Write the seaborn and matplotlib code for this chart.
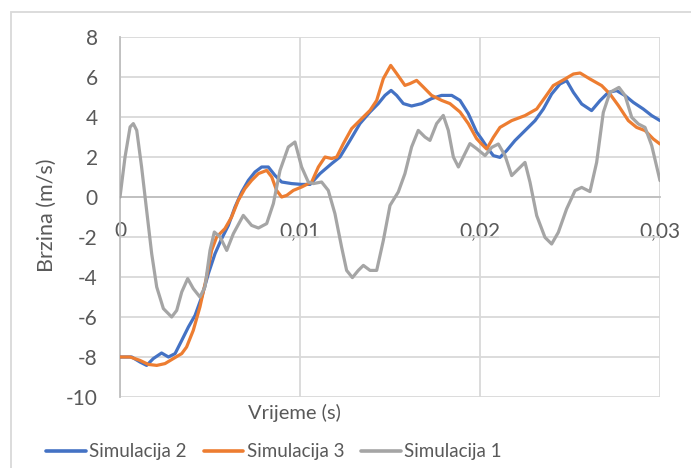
import matplotlib
matplotlib.use("Agg")
import matplotlib.pyplot as plt
import seaborn as sns
import pandas as pd

# Simulacija 2: time (s) and speed (m/s)
t_sim2 = [0.0, 0.00065, 0.00111, 0.00148, 0.00185, 0.00231, 0.00269, 0.00306,
          0.00343, 0.0038, 0.00417, 0.00454, 0.00491, 0.00528, 0.00565, 0.00602,
          0.00639, 0.00676, 0.00713, 0.0075, 0.00787, 0.00824, 0.00861, 0.00898,
          0.00954, 0.01009, 0.01056, 0.01111, 0.01176, 0.01222, 0.01278, 0.01333,
          0.01389, 0.01435, 0.01472, 0.01506, 0.01537, 0.01574, 0.0162, 0.01676,
          0.01731, 0.01787, 0.01843, 0.01889, 0.01935, 0.01981, 0.02009, 0.02046,
          0.02074, 0.02111, 0.02148, 0.02194, 0.0225, 0.02306, 0.02352, 0.02398,
          0.02444, 0.02481, 0.02519, 0.02565, 0.0262, 0.02667, 0.02713, 0.02759,
          0.02806, 0.02852, 0.02907, 0.02954, 0.03]
v_sim2 = [-8.0, -8.0, -8.25, -8.42, -8.08, -7.8, -8.0, -7.83,
          -7.17, -6.5, -5.92, -5.0, -3.83, -2.83, -2.08, -1.42,
          -0.5, 0.25, 0.83, 1.25, 1.5, 1.5, 1.08, 0.75,
          0.67, 0.63, 0.63, 1.17, 1.67, 2.0, 2.83, 3.67,
          4.25, 4.67, 5.08, 5.33, 5.08, 4.67, 4.55, 4.67,
          4.92, 5.08, 5.08, 4.83, 4.17, 3.25, 2.9, 2.4,
          2.07, 1.98, 2.32, 2.82, 3.32, 3.82, 4.4, 5.15,
          5.65, 5.82, 5.23, 4.65, 4.32, 4.82, 5.23, 5.32,
          5.07, 4.73, 4.4, 4.07, 3.82]

# Simulacija 3
t_sim3 = [0.0, 0.00056, 0.00111, 0.00157, 0.00204, 0.0025, 0.00296, 0.00343,
          0.0037, 0.00407, 0.00444, 0.00481, 0.00509, 0.00537, 0.00583, 0.0062,
          0.00657, 0.00694, 0.00731, 0.00769, 0.00815, 0.00843, 0.0087, 0.00898,
          0.00926, 0.00963, 0.01009, 0.01065, 0.01102, 0.01139, 0.01176, 0.01204,
          0.01241, 0.01287, 0.01343, 0.01389, 0.01426, 0.01463, 0.01504, 0.01537,
          0.01583, 0.01611, 0.01648, 0.01685, 0.01731, 0.01787, 0.01833, 0.01889,
          0.01935, 0.01981, 0.02009, 0.02037, 0.02074, 0.02111, 0.02176, 0.0225,
          0.02315, 0.02361, 0.02407, 0.02472, 0.02519, 0.02556, 0.02611, 0.02676,
          0.02722, 0.02769, 0.02824, 0.0287, 0.02917, 0.02963, 0.03]
v_sim3 = [-8.0, -8.0, -8.17, -8.37, -8.42, -8.33, -8.08, -7.83,
          -7.5, -6.67, -5.5, -4.0, -2.67, -2.0, -1.58, -1.0,
          -0.17, 0.42, 0.83, 1.17, 1.33, 1.0, 0.33, 0.0,
          0.08, 0.33, 0.5, 0.75, 1.5, 2.0, 1.92, 2.0,
          2.67, 3.42, 3.92, 4.33, 4.83, 5.92, 6.58, 6.17,
          5.58, 5.67, 5.83, 5.5, 5.08, 4.83, 4.67, 4.25,
          3.67, 2.92, 2.65, 2.4, 2.98, 3.48, 3.82, 4.07,
          4.4, 4.98, 5.57, 5.9, 6.15, 6.2, 5.9, 5.57,
          5.15, 4.57, 3.82, 3.48, 3.32, 2.9, 2.65]

# Simulacija 1
t_sim1 = [0.0, 0.00028, 0.00056, 0.00074, 0.00093, 0.0012, 0.00148, 0.00176,
          0.00204, 0.00241, 0.00287, 0.00315, 0.00343, 0.00376, 0.00407, 0.00444,
          0.00472, 0.005, 0.00524, 0.00556, 0.00593, 0.0063, 0.00685, 0.00731,
          0.00769, 0.00815, 0.00852, 0.00889, 0.00935, 0.00972, 0.01009, 0.01046,
          0.01074, 0.0112, 0.01157, 0.01194, 0.01231, 0.01259, 0.01291, 0.01324,
          0.01352, 0.01389, 0.01426, 0.01463, 0.015, 0.01546, 0.01583, 0.0162,
          0.01657, 0.01694, 0.01722, 0.01759, 0.01796, 0.01824, 0.01852, 0.0188,
          0.01907, 0.01944, 0.01981, 0.02028, 0.02065, 0.02102, 0.02139, 0.02176,
          0.02213, 0.0225, 0.02278, 0.02315, 0.02361, 0.02398, 0.02435, 0.02481,
          0.02528, 0.02565, 0.02611, 0.02648, 0.02685, 0.02722, 0.02772, 0.02806,
          0.02843, 0.0288, 0.02917, 0.02954, 0.03]
v_sim1 = [0.0, 2.0, 3.5, 3.67, 3.33, 1.5, -0.67, -2.83,
          -4.5, -5.58, -6.0, -5.67, -4.75, -4.08, -4.58, -5.0,
          -4.5, -2.67, -1.75, -2.0, -2.67, -1.83, -0.92, -1.42,
          -1.55, -1.33, -0.33, 1.33, 2.5, 2.75, 1.5, 0.75,
          0.67, 0.75, 0.33, -0.83, -2.5, -3.67, -4.03, -3.67,
          -3.42, -3.67, -3.67, -2.17, -0.42, 0.25, 1.17, 2.5,
          3.33, 3.0, 2.83, 3.67, 4.08, 3.33, 2.0, 1.5,
          2.0, 2.67, 2.42, 2.07, 2.48, 2.65, 2.07, 1.07,
          1.4, 1.73, 0.73, -0.93, -2.02, -2.35, -1.77, -0.6,
          0.32, 0.48, 0.27, 1.73, 4.23, 5.23, 5.48, 5.07,
          3.98, 3.65, 3.48, 2.57, 0.82]

series_names = ["Simulacija 2", "Simulacija 3", "Simulacija 1"]
series_colors = ["#4472C4", "#ED7D31", "#A5A5A5"]

x_ticks = [0.0, 0.01, 0.02, 0.03]
x_tick_labels = ["0", "0,01", "0,02", "0,03"]
y_ticks = list(range(-10, 9, 2))

frames = []
for name, t, v in zip(series_names,
                      [t_sim2, t_sim3, t_sim1],
                      [v_sim2, v_sim3, v_sim1]):
    frames.append(pd.DataFrame({"t": t, "v": v, "serija": name}))
df = pd.concat(frames, ignore_index=True)

sns.set_style("white")
plt.rcParams["font.family"] = ["Lato", "DejaVu Sans"]

fig = plt.figure(figsize=(6.91, 4.68), dpi=100)
ax = fig.add_axes([120 / 691, 1 - 397 / 468, 540 / 691, 360 / 468])

sns.lineplot(data=df, x="t", y="v", hue="serija", hue_order=series_names,
             palette=series_colors, sort=False, linewidth=2.3, ax=ax,
             legend=True, zorder=3)
for line in ax.get_lines():
    line.set_solid_joinstyle("round")
    line.set_solid_capstyle("round")

ax.set_xlim(0, 0.03)
ax.set_ylim(-10, 8)
ax.set_xticks(x_ticks)
ax.set_xticklabels(x_tick_labels)
ax.set_yticks(y_ticks)
ax.set_yticklabels([str(y) for y in y_ticks])

grid_c = "#D9D9D9"
ax.grid(True, color=grid_c, linewidth=1.3, zorder=0)
ax.set_axisbelow(True)

for side in ["top", "right"]:
    ax.spines[side].set_visible(False)
ax.spines["left"].set_color("#BFBFBF")
ax.spines["left"].set_linewidth(1.3)
ax.spines["bottom"].set_position(("data", 0))
ax.spines["bottom"].set_color("#BFBFBF")
ax.spines["bottom"].set_linewidth(1.3)

ax.tick_params(axis="both", length=0, labelsize=15, colors="#595959")
ax.tick_params(axis="x", pad=17)
ax.tick_params(axis="y", pad=16)

ax.set_xlabel("")
ax.set_ylabel("")
fig.text(47 / 691, 1 - 215 / 468, "Brzina (m/s)", rotation=90, ha="center",
         va="center", fontsize=15.5, color="#595959")
fig.text(294 / 691, 1 - 413 / 468, "Vrijeme (s)", ha="center", va="center",
         fontsize=14.5, color="#595959")

handles, labels = ax.get_legend_handles_labels()
for h in handles:
    h.set_linewidth(2.6)
ax.legend(handles, labels, loc="center", bbox_to_anchor=(274 / 691, 1 - 452 / 468),
          bbox_transform=fig.transFigure, ncol=3, frameon=False, fontsize=13.5,
          handlelength=2.1, handletextpad=0.2, columnspacing=0.9,
          labelcolor="#595959")

# outer chart border
border = plt.Rectangle((11 / 691, -0.01), 1.0, 1 - 12 / 468 + 0.01,
                       transform=fig.transFigure, fill=False,
                       edgecolor="#D9D9D9", linewidth=1.3)
fig.add_artist(border)

fig.savefig("out.png", dpi=100)
